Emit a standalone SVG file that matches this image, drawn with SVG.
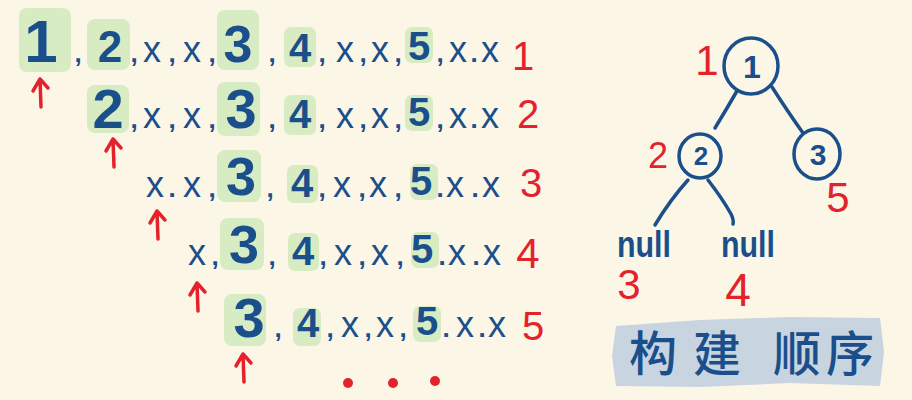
<svg xmlns="http://www.w3.org/2000/svg" width="912" height="400" viewBox="0 0 912 400">
<style>
.bg{fill:#fcf6e6}
.hl{fill:#d7ecc3}
.d{font-family:"Liberation Sans",Arial,sans-serif;font-weight:700;fill:#1b4f8c;text-anchor:middle}
.x{font-family:"Liberation Sans",Arial,sans-serif;font-weight:400;fill:#1b4f8c;text-anchor:middle;font-size:36px}
.p{font-family:"Liberation Sans",Arial,sans-serif;font-weight:700;fill:#1b4f8c;text-anchor:middle;font-size:26px}
.r{font-family:"Liberation Sans",Arial,sans-serif;font-weight:400;fill:#e3222c;text-anchor:middle}
.arr{fill:none;stroke:#e3222c;stroke-width:3.5;stroke-linecap:round;stroke-linejoin:round}
.edge{fill:none;stroke:#1b4f8c;stroke-width:3.5;stroke-linecap:round}
.node{fill:none;stroke:#1b4f8c;stroke-width:3.5}
.cn{font-family:"Noto Sans CJK SC","Noto Sans CJK TC",sans-serif;font-weight:500;fill:#1b4f8c;font-size:48px;text-anchor:middle}
</style>
<defs>
<path id="up" d="M1,28 L0,0 M-7,12 L0,0 L8,9"/>
</defs>
<rect class="bg" width="912" height="400"/>

<g id="row1">
<rect class="hl" x="19" y="8" width="52" height="64" rx="8"/>
<rect class="hl" x="87" y="19" width="43" height="51" rx="8"/>
<rect class="hl" x="217" y="10" width="42" height="60" rx="8"/>
<rect class="hl" x="284" y="27" width="32" height="40" rx="7"/>
<rect class="hl" x="405" y="27" width="28" height="36" rx="7"/>
<text class="d" x="41" y="62" font-size="60">1</text>
<text class="p" x="78" y="62">,</text>
<text class="d" x="110" y="62" font-size="44">2</text>
<text class="p" x="134" y="62">,</text>
<text class="x" x="152" y="62">x</text>
<text class="p" x="172" y="62">,</text>
<text class="x" x="192" y="62">x</text>
<text class="p" x="212" y="62">,</text>
<text class="d" x="238" y="62" font-size="52">3</text>
<text class="p" x="272" y="62">,</text>
<text class="d" x="300" y="62" font-size="40">4</text>
<text class="p" x="322" y="62">,</text>
<text class="x" x="345" y="62">x</text>
<text class="p" x="363" y="62">,</text>
<text class="x" x="380" y="62">x</text>
<text class="p" x="398" y="62">,</text>
<text class="d" x="419" y="60" font-size="40">5</text>
<text class="p" x="440" y="62">,</text>
<text class="x" x="458" y="62">x</text>
<text class="p" x="474" y="62">.</text>
<text class="x" x="490" y="62">x</text>
<text class="r" x="523" y="70" font-size="40">1</text>
<use href="#up" class="arr" x="40" y="79"/>
</g>

<g id="row2">
<rect class="hl" x="87" y="85" width="42" height="48" rx="8"/>
<rect class="hl" x="217" y="82" width="43" height="54" rx="8"/>
<rect class="hl" x="284" y="95" width="32" height="40" rx="7"/>
<rect class="hl" x="405" y="95" width="28" height="36" rx="7"/>
<text class="d" x="108" y="128" font-size="56">2</text>
<text class="p" x="134" y="128">,</text>
<text class="x" x="152" y="128">x</text>
<text class="p" x="172" y="128">,</text>
<text class="x" x="192" y="128">x</text>
<text class="p" x="212" y="128">,</text>
<text class="d" x="241" y="128" font-size="56">3</text>
<text class="p" x="272" y="128">,</text>
<text class="d" x="300" y="128" font-size="40">4</text>
<text class="p" x="322" y="128">,</text>
<text class="x" x="345" y="128">x</text>
<text class="p" x="363" y="128">,</text>
<text class="x" x="380" y="128">x</text>
<text class="p" x="398" y="128">,</text>
<text class="d" x="419" y="126" font-size="40">5</text>
<text class="p" x="440" y="128">,</text>
<text class="x" x="458" y="128">x</text>
<text class="p" x="474" y="128">.</text>
<text class="x" x="490" y="128">x</text>
<text class="r" x="528" y="128" font-size="40">2</text>
<use href="#up" class="arr" x="113" y="139"/>
</g>

<g id="row3">
<rect class="hl" x="217" y="150" width="44" height="52" rx="8"/>
<rect class="hl" x="287" y="165" width="31" height="38" rx="7"/>
<rect class="hl" x="410" y="164" width="28" height="36" rx="7"/>
<text class="x" x="155" y="197">x</text>
<text class="p" x="172" y="197">.</text>
<text class="x" x="192" y="197">x</text>
<text class="p" x="212" y="197">,</text>
<text class="d" x="241" y="195" font-size="54">3</text>
<text class="p" x="270" y="197">,</text>
<text class="d" x="302" y="197" font-size="40">4</text>
<text class="p" x="322" y="197">,</text>
<text class="x" x="342" y="197">x</text>
<text class="p" x="362" y="197">,</text>
<text class="x" x="378" y="197">x</text>
<text class="p" x="398" y="197">,</text>
<text class="d" x="421" y="195" font-size="40">5</text>
<text class="p" x="440" y="197">.</text>
<text class="x" x="455" y="197">x</text>
<text class="p" x="475" y="197">.</text>
<text class="x" x="491" y="197">x</text>
<text class="r" x="531" y="197" font-size="40">3</text>
<use href="#up" class="arr" x="157" y="211"/>
</g>

<g id="row4">
<rect class="hl" x="220" y="218" width="44" height="52" rx="8"/>
<rect class="hl" x="288" y="233" width="31" height="38" rx="7"/>
<rect class="hl" x="411" y="232" width="28" height="36" rx="7"/>
<text class="x" x="197" y="265">x</text>
<text class="p" x="215" y="265">,</text>
<text class="d" x="244" y="263" font-size="54">3</text>
<text class="p" x="272" y="265">,</text>
<text class="d" x="303" y="265" font-size="40">4</text>
<text class="p" x="323" y="265">,</text>
<text class="x" x="343" y="265">x</text>
<text class="p" x="362" y="265">,</text>
<text class="x" x="380" y="265">x</text>
<text class="p" x="400" y="265">,</text>
<text class="d" x="422" y="263" font-size="40">5</text>
<text class="p" x="442" y="265">.</text>
<text class="x" x="457" y="265">x</text>
<text class="p" x="476" y="265">.</text>
<text class="x" x="492" y="265">x</text>
<text class="r" x="528" y="268" font-size="42">4</text>
<use href="#up" class="arr" x="197" y="283"/>
</g>

<g id="row5">
<rect class="hl" x="224" y="294" width="42" height="52" rx="8"/>
<rect class="hl" x="293" y="308" width="28" height="38" rx="7"/>
<rect class="hl" x="413" y="306" width="28" height="36" rx="7"/>
<text class="d" x="249" y="337" font-size="56">3</text>
<text class="p" x="278" y="337">,</text>
<text class="d" x="308" y="337" font-size="40">4</text>
<text class="p" x="330" y="337">,</text>
<text class="x" x="350" y="337">x</text>
<text class="p" x="368" y="337">,</text>
<text class="x" x="385" y="337">x</text>
<text class="p" x="403" y="337">,</text>
<text class="d" x="427" y="335" font-size="40">5</text>
<text class="p" x="446" y="337">.</text>
<text class="x" x="465" y="337">x</text>
<text class="p" x="482" y="337">.</text>
<text class="x" x="497" y="337">x</text>
<text class="r" x="533" y="340" font-size="40">5</text>
<use href="#up" class="arr" x="243" y="354"/>
</g>

<g id="ellipsis" fill="#e3222c">
<circle cx="348" cy="383" r="5"/>
<circle cx="393" cy="383" r="5"/>
<circle cx="435" cy="381" r="5"/>
</g>

<g id="connectors">
<path class="edge" d="M737,91 Q726,110 715,128"/>
<path class="edge" d="M772,87 Q788,112 803,133"/>
<path class="edge" d="M688,180 Q670,200 655,225"/>
<path class="edge" d="M708,180 Q722,198 731,214 Q734,220 733,224"/>
</g>

<g id="node1">
<ellipse class="node" cx="751" cy="66" rx="27" ry="28"/>
<text class="d" x="752" y="78" font-size="32">1</text>
<text class="r" x="707" y="75" font-size="42">1</text>
</g>
<g id="node2">
<ellipse class="node" cx="700" cy="156" rx="21" ry="22"/>
<text class="d" x="701" y="165" font-size="26">2</text>
<text class="r" x="658" y="168" font-size="36">2</text>
</g>
<g id="node3">
<ellipse class="node" cx="817" cy="154" rx="23" ry="25"/>
<text class="d" x="818" y="165" font-size="30">3</text>
<text class="r" x="838" y="212" font-size="42">5</text>
</g>
<g id="nullL">
<text class="d" x="644" y="257" font-size="36" textLength="54" lengthAdjust="spacingAndGlyphs">null</text>
<text class="r" x="629" y="299" font-size="42">3</text>
</g>
<g id="nullR">
<text class="d" x="748" y="257" font-size="36" textLength="54" lengthAdjust="spacingAndGlyphs">null</text>
<text class="r" x="738" y="306" font-size="46">4</text>
</g>

<g id="title">
<path d="M616,326 L700,320 L790,317 L880,318 L884,352 L880,386 L790,383 L700,387 L616,386 L612,356 Z" fill="#c8d5e0"/>
<text class="cn" x="653 717 797 850" y="371">构建顺序</text>
</g>
</svg>
